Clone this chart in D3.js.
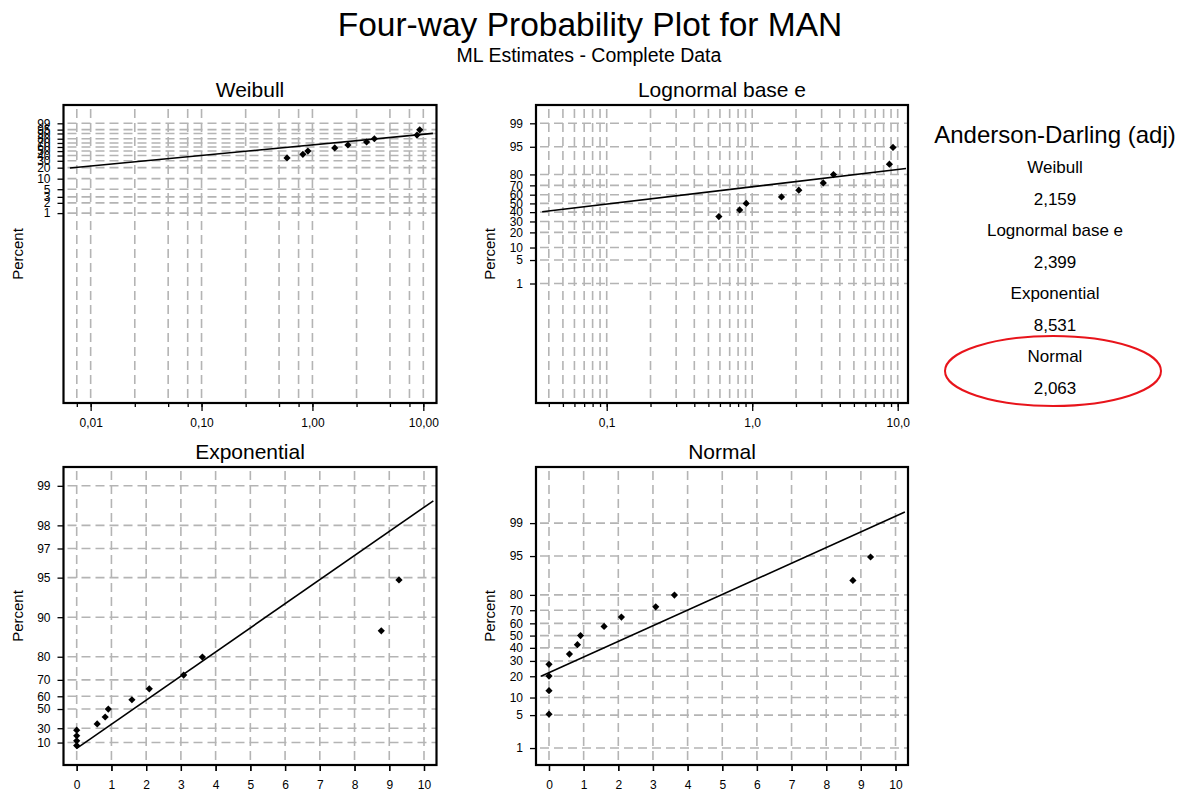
<!DOCTYPE html>
<html>
<head>
<meta charset="utf-8">
<script src="https://cdn.jsdelivr.net/npm/d3@7"></script>
<style>
  body { margin: 0; background: #fff; }
  text { font-family: "Liberation Sans", Arial, sans-serif; fill: #000; }
</style>
</head>
<body>
<script>
// failure data (time) and plotted median-rank percents
var times    = [0, 0, 0, 0, 0.59, 0.82, 0.91, 1.59, 2.09, 3.08, 3.62, 8.77, 9.28];
var percents = [5.2, 12.7, 20.1, 27.6, 35.1, 42.5, 50.0, 57.5, 64.9, 72.4, 79.9, 87.3, 94.8];

// fitted lines, [time, percent] at both ends
var fitWeibull     = [[0.0065, 19.6], [12.2, 90.1]];
var fitLognormal   = [[0.036, 40.4], [11.4, 84.5]];
var fitExponential = [[0, 0.3], [10.27, 98.7]];
var fitNormal      = [[-0.23, 20.0], [10.27, 99.47]];

// y tick labels (percent)
var weibullTicks     = [1, 2, 3, 5, 10, 20, 30, 40, 50, 60, 70, 80, 90, 95, 99];
var lognormalTicks   = [1, 5, 10, 20, 30, 40, 50, 60, 70, 80, 95, 99];
var exponentialTicks = [10, 30, 50, 60, 70, 80, 90, 95, 97, 98, 99];
var normalTicks      = [1, 5, 10, 20, 30, 40, 50, 60, 70, 80, 95, 99];

// x ticks
var weibullMajor  = [0.01, 0.1, 1, 10];
var weibullLabels = ["0,01", "0,10", "1,00", "10,00"];
var weibullGrid   = [0.0075, 0.01, 0.025, 0.05, 0.075, 0.1, 0.25, 0.5, 0.75, 1, 2.5, 5, 7.5, 10];
var lognormalMajor  = [0.1, 1, 10];
var lognormalLabels = ["0,1", "1,0", "10,0"];
var lognormalGrid   = [0.04, 0.05, 0.06, 0.07, 0.08, 0.09, 0.1, 0.2, 0.3, 0.4, 0.5, 0.6, 0.7, 0.8, 0.9,
                       1, 2, 3, 4, 5, 6, 7, 8, 9, 10];
var linearTicks = [0, 1, 2, 3, 4, 5, 6, 7, 8, 9, 10];

// Anderson-Darling table
var adNames  = ["Weibull", "Lognormal base e", "Exponential", "Normal"];
var adValues = [2.159, 2.399, 8.531, 2.063];

// inverse normal cdf (Acklam)
function qnorm(p){
  var a = [-3.969683028665376e+01, 2.209460984245205e+02, -2.759285104469687e+02, 1.383577518672690e+02, -3.066479806614716e+01, 2.506628277459239e+00];
  var b = [-5.447609879822406e+01, 1.615858368580409e+02, -1.556989798598866e+02, 6.680131188771972e+01, -1.328068155288572e+01];
  var c = [-7.784894002430293e-03, -3.223964580411365e-01, -2.400758277161838e+00, -2.549732539343734e+00, 4.374664141464968e+00, 2.938163982698783e+00];
  var d = [7.784695709041462e-03, 3.224671290700398e-01, 2.445134137142996e+00, 3.754408145548060e+00];
  var q, r;
  if (p < 0.02425){
    q = Math.sqrt(-2*Math.log(p));
    return (((((c[0]*q+c[1])*q+c[2])*q+c[3])*q+c[4])*q+c[5]) / ((((d[0]*q+d[1])*q+d[2])*q+d[3])*q+1);
  }
  if (p > 1-0.02425){
    q = Math.sqrt(-2*Math.log(1-p));
    return -(((((c[0]*q+c[1])*q+c[2])*q+c[3])*q+c[4])*q+c[5]) / ((((d[0]*q+d[1])*q+d[2])*q+d[3])*q+1);
  }
  q = p-0.5; r = q*q;
  return (((((a[0]*r+a[1])*r+a[2])*r+a[3])*r+a[4])*r+a[5])*q / (((((b[0]*r+b[1])*r+b[2])*r+b[3])*r+b[4])*r+1);
}

var svg = d3.select("body").append("svg")
            .attr("width", 1189)
            .attr("height", 796);

var L = 63.5, R = 436.5, L2 = 536, R2 = 908;

var panels = [
  {title: "Weibull", left: L, right: R, top: 105, bottom: 403,
   x: d3.scaleLog().domain([0.00569, 13.15]).range([L, R]),
   tf: function(p){ return Math.log(-Math.log(1 - p/100)); }, tDomain: [-17.56, 2.777],
   yTicks: weibullTicks, xMajor: weibullMajor, xLabels: weibullLabels, xGrid: weibullGrid,
   fit: fitWeibull, logX: true},
  {title: "Lognormal base e", left: L2, right: R2, top: 105, bottom: 403,
   x: d3.scaleLog().domain([0.03266, 11.77]).range([L2, R2]),
   tf: function(p){ return qnorm(p/100); }, tDomain: [-5.797, 2.858],
   yTicks: lognormalTicks, xMajor: lognormalMajor, xLabels: lognormalLabels, xGrid: lognormalGrid,
   fit: fitLognormal, logX: true},
  {title: "Exponential", left: L, right: R, top: 467, bottom: 765,
   x: d3.scaleLinear().domain([-0.38, 10.36]).range([L, R]),
   tf: function(p){ return -Math.log(1 - p/100); }, tDomain: [-0.288, 4.935],
   yTicks: exponentialTicks, xMajor: linearTicks, xLabels: linearTicks.map(String), xGrid: linearTicks,
   fit: fitExponential, logX: false},
  {title: "Normal", left: L2, right: R2, top: 467, bottom: 765,
   x: d3.scaleLinear().domain([-0.375, 10.36]).range([L2, R2]),
   tf: function(p){ return qnorm(p/100); }, tDomain: [-2.677, 3.487],
   yTicks: normalTicks, xMajor: linearTicks, xLabels: linearTicks.map(String), xGrid: linearTicks,
   fit: fitNormal, logX: false}
];

function probplot(svg, c, k){
  var yScale = d3.scaleLinear().domain(c.tDomain).range([c.bottom, c.top]);
  var y = function(p){ return yScale(c.tf(p)); };
  var g = svg.append("g");

  g.append("clipPath").attr("id", "clip" + k)
   .append("rect")
   .attr("x", c.left).attr("y", c.top)
   .attr("width", c.right - c.left).attr("height", c.bottom - c.top);

  //grid
  g.append("g")
   .selectAll("line")
   .data(c.xGrid)
   .enter()
   .append("line")
   .attr("x1", function(d){ return c.x(d); })
   .attr("x2", function(d){ return c.x(d); })
   .attr("y1", c.top + 4)
   .attr("y2", c.bottom)
   .attr("stroke", "#b4b4b4")
   .attr("stroke-width", 1.6)
   .attr("stroke-dasharray", "9,5");
  g.append("g")
   .selectAll("line")
   .data(c.yTicks)
   .enter()
   .append("line")
   .attr("x1", c.left + 4)
   .attr("x2", c.right)
   .attr("y1", function(d){ return y(d); })
   .attr("y2", function(d){ return y(d); })
   .attr("stroke", "#b4b4b4")
   .attr("stroke-width", 1.6)
   .attr("stroke-dasharray", "9,5");

  //y axis
  var yAxis = d3.axisLeft(yScale)
                .tickValues(c.yTicks.map(c.tf))
                .tickFormat(function(d, i){ return c.yTicks[i]; })
                .tickSize(6)
                .tickPadding(7)
                .tickSizeOuter(0);
  var ya = g.append("g")
            .attr("transform", "translate(" + c.left + ",0)")
            .call(yAxis);
  ya.select(".domain").remove();
  ya.selectAll("line").attr("stroke-width", 1.3);
  ya.selectAll("text")
    .attr("font-size", 12)
    .attr("font-family", "Liberation Sans, Arial, sans-serif");

  //x axis, minor then major
  var xMinor = d3.axisBottom(c.x)
                 .tickValues(c.xGrid)
                 .tickFormat("")
                 .tickSize(c.logX ? 4 : 6)
                 .tickSizeOuter(0);
  var xm = g.append("g")
            .attr("transform", "translate(0," + c.bottom + ")")
            .call(xMinor);
  xm.select(".domain").remove();
  xm.selectAll("line").attr("stroke-width", 1.3);

  var xAxis = d3.axisBottom(c.x)
                .tickValues(c.xMajor)
                .tickFormat(function(d, i){ return c.xLabels[i]; })
                .tickSize(c.logX ? 8 : 6)
                .tickSizeOuter(0);
  var xa = g.append("g")
            .attr("transform", "translate(0," + c.bottom + ")")
            .call(xAxis);
  xa.select(".domain").remove();
  xa.selectAll("line").attr("stroke-width", 1.3);
  xa.selectAll("text")
    .attr("y", 24)
    .attr("dy", 0)
    .attr("font-size", 12)
    .attr("font-family", "Liberation Sans, Arial, sans-serif");

  //frame
  g.append("rect")
   .attr("x", c.left).attr("y", c.top)
   .attr("width", c.right - c.left).attr("height", c.bottom - c.top)
   .attr("fill", "none")
   .attr("stroke", "#000")
   .attr("stroke-width", 2.2);

  //fit line
  var line = d3.line()
               .x(function(d){ return c.x(d[0]); })
               .y(function(d){ return y(d[1]); });
  g.append("path")
   .datum(c.fit)
   .attr("d", line)
   .attr("clip-path", "url(#clip" + k + ")")
   .attr("fill", "none")
   .attr("stroke", "#000")
   .attr("stroke-width", 1.6);

  //points
  var pts = times.map(function(t, i){ return {t: t, p: percents[i]}; })
                 .filter(function(d){ return !c.logX || d.t > 0; });
  g.append("g")
   .selectAll("path")
   .data(pts)
   .enter()
   .append("path")
   .attr("d", d3.symbol().type(d3.symbolSquare).size(26))
   .attr("transform", function(d){
      return "translate(" + c.x(d.t) + "," + y(d.p) + ") rotate(45)";
   })
   .attr("fill", "#000");

  //titles
  g.append("text")
   .attr("x", (c.left + c.right) / 2)
   .attr("y", c.top - 8)
   .attr("text-anchor", "middle")
   .attr("font-size", 21)
   .text(c.title);
  g.append("text")
   .attr("transform", "translate(" + (c.left - 41) + "," + ((c.top + c.bottom) / 2) + ") rotate(-90)")
   .attr("text-anchor", "middle")
   .attr("font-size", 15)
   .text("Percent");
}

panels.forEach(function(c, i){ probplot(svg, c, i); });

//main titles
svg.append("text")
   .attr("x", 590).attr("y", 36)
   .attr("text-anchor", "middle")
   .attr("font-size", 33.5)
   .text("Four-way Probability Plot for MAN");
svg.append("text")
   .attr("x", 589).attr("y", 62)
   .attr("text-anchor", "middle")
   .attr("font-size", 19.5)
   .text("ML Estimates - Complete Data");

//Anderson-Darling box
var ad = svg.append("g").attr("id", "ad");
ad.append("text")
  .attr("x", 1055).attr("y", 143)
  .attr("text-anchor", "middle")
  .attr("font-size", 24)
  .text("Anderson-Darling (adj)");
adNames.forEach(function(n, i){
  ad.append("text")
    .attr("x", 1055).attr("y", 173.3 + i * 63)
    .attr("text-anchor", "middle")
    .attr("font-size", 17)
    .text(n);
  ad.append("text")
    .attr("x", 1055).attr("y", 204.8 + i * 63)
    .attr("text-anchor", "middle")
    .attr("font-size", 17)
    .text(d3.format(".3f")(adValues[i]).replace(".", ","));
});
ad.append("ellipse")
  .attr("cx", 1053).attr("cy", 371)
  .attr("rx", 108).attr("ry", 35)
  .attr("fill", "none")
  .attr("stroke", "#e8141b")
  .attr("stroke-width", 2);
</script>
</body>
</html>
